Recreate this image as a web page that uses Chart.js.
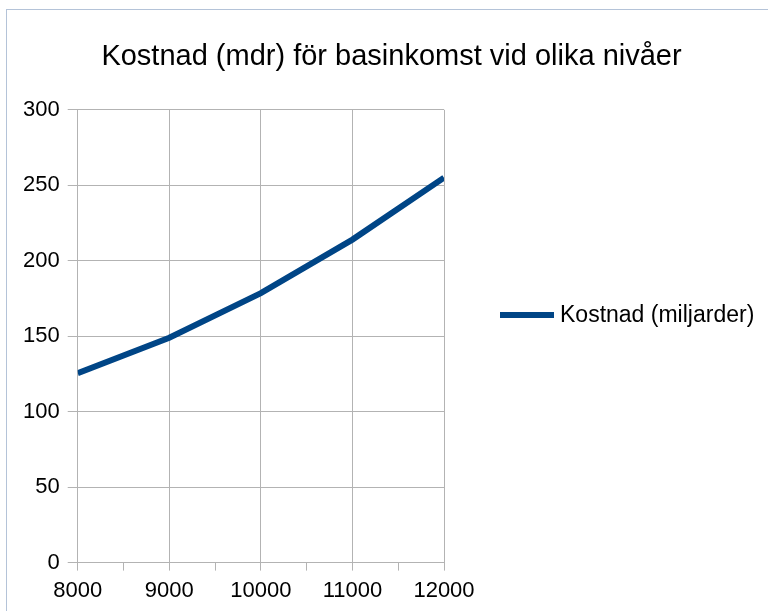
<!DOCTYPE html>
<html>
<head>
<meta charset="utf-8">
<script src="https://cdn.jsdelivr.net/npm/chart.js@4/dist/chart.umd.min.js"></script>
<style>
html,body{margin:0;padding:0;background:#fff;}
#wrap{position:absolute;left:0;top:0;width:768px;height:611px;}
#frame{position:absolute;left:6px;top:9px;width:800px;height:700px;border-left:1px solid #b4c3d8;border-top:1px solid #b4c3d8;}
canvas{position:absolute;left:0;top:0;}
</style>
</head>
<body>
<div id="wrap"><div id="frame"></div><canvas id="c" width="768" height="611"></canvas></div>
<script>
const xLevels = [8000, 9000, 10000, 11000, 12000];
const costValues = [125.5, 149, 178.5, 214, 255];
const seriesLabel = 'Kostnad (miljarder)';
const chartTitle = 'Kostnad (mdr) för basinkomst vid olika nivåer';

const points = xLevels.map((x, i) => ({x: x, y: costValues[i]}));
const FONT = '"Liberation Sans", Arial, sans-serif';

// Right-side legend drawn from the dataset's own label and colour
const sideLegend = {
  id: 'sideLegend',
  afterDraw(chart) {
    const ctx = chart.ctx;
    const ds = chart.data.datasets[0];
    const x0 = chart.chartArea.right + 56;
    const y = 315;
    ctx.save();
    ctx.strokeStyle = ds.borderColor;
    ctx.lineWidth = 6;
    ctx.lineCap = 'butt';
    ctx.beginPath();
    ctx.moveTo(x0, y);
    ctx.lineTo(x0 + 54, y);
    ctx.stroke();
    ctx.fillStyle = '#000';
    ctx.font = '23px ' + FONT;
    ctx.textBaseline = 'middle';
    ctx.textAlign = 'left';
    ctx.fillText(ds.label, x0 + 60, y + 1);
    ctx.restore();
  }
};

new Chart(document.getElementById('c'), {
  type: 'line',
  data: {
    datasets: [{
      label: seriesLabel,
      data: points,
      borderColor: '#004586',
      backgroundColor: '#004586',
      borderWidth: 6,
      pointRadius: 0,
      tension: 0,
      fill: false
    }]
  },
  options: {
    responsive: false,
    animation: false,
    layout: {padding: {left: 15, right: 0, top: 0, bottom: 0}},
    plugins: {
      title: {
        display: true,
        text: chartTitle,
        color: '#000',
        font: {family: FONT, size: 29, weight: 'normal'},
        padding: {top: 40, bottom: 35}
      },
      legend: {display: false},
      tooltip: {enabled: false}
    },
    scales: {
      x: {
        type: 'linear',
        min: 8000,
        max: 12000,
        afterFit: (scale) => { scale.paddingRight = 324; },
        border: {color: '#b3b3b3', width: 1},
        grid: {
          color: (ctx) => (ctx.tick && ctx.tick.value % 1000 === 0) ? '#b3b3b3' : 'rgba(0,0,0,0)',
          tickColor: '#b3b3b3',
          tickLength: 8,
          lineWidth: 1
        },
        ticks: {
          stepSize: 500,
          autoSkip: false,
          maxRotation: 0,
          color: '#000',
          font: {family: FONT, size: 22},
          padding: 7,
          callback: (v) => (v % 1000 === 0) ? String(v) : ''
        }
      },
      y: {
        min: 0,
        max: 300,
        border: {color: '#b3b3b3', width: 1},
        grid: {color: '#b3b3b3', tickColor: '#b3b3b3', tickLength: 10, lineWidth: 1},
        ticks: {
          stepSize: 50,
          color: '#000',
          font: {family: FONT, size: 22},
          padding: 8
        }
      }
    }
  },
  plugins: [sideLegend]
});
</script>
</body>
</html>
